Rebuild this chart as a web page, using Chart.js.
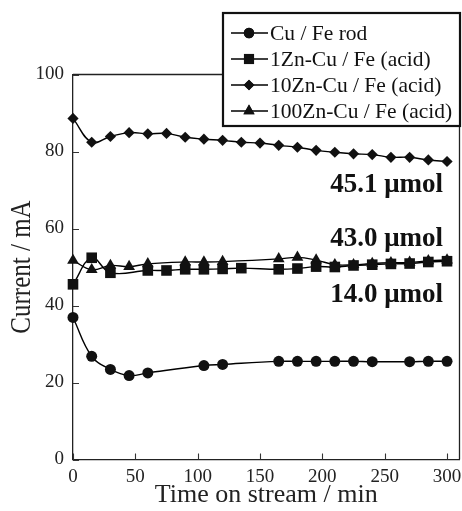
<!DOCTYPE html>
<html>
<head>
<meta charset="utf-8">
<script src="https://cdn.jsdelivr.net/npm/chart.js@4.4.0/dist/chart.umd.min.js"></script>
<style>
html,body{margin:0;padding:0;background:#fff;}
canvas{display:block;}
</style>
</head>
<body>
<canvas id="c" width="462" height="511"></canvas>
<script>
// ---- data ----
const seriesLabels = ["Cu / Fe rod", "1Zn-Cu / Fe (acid)", "10Zn-Cu / Fe (acid)", "100Zn-Cu / Fe (acid)"];

const cuTime = [0,15,30,45,60,105,120,165,180,195,210,225,240,270,285,300];
const cuCurrent = [36.9,26.8,23.4,21.8,22.5,24.4,24.7,25.5,25.5,25.5,25.5,25.5,25.4,25.4,25.5,25.5];

const zn1Time = [0,15,30,60,75,90,105,120,135,165,180,195,210,225,240,255,270,285,300];
const zn1Current = [45.5,52.4,48.5,49.1,49.1,49.4,49.4,49.5,49.7,49.4,49.6,50.1,50.0,50.4,50.6,50.8,50.9,51.3,51.5];

const zn10Time = [0,15,30,45,60,75,90,105,120,135,150,165,180,195,210,225,240,255,270,285,300];
const zn10Current = [88.6,82.4,83.9,84.9,84.6,84.7,83.7,83.2,82.9,82.4,82.2,81.6,81.1,80.3,79.8,79.4,79.2,78.5,78.5,77.8,77.4];

const zn100Time = [0,15,30,45,60,90,105,120,165,180,195,210,225,240,255,270,285,300];
const zn100Current = [51.7,49.3,50.4,50.1,50.8,51.3,51.3,51.4,52.1,52.5,51.8,50.6,50.6,50.9,51.1,51.2,51.6,51.8];

const xTickValues = [0,50,100,150,200,250,300];
const yTickValues = [0,20,40,60,80,100];

const amountLabels = ["45.1 \u03bcmol", "43.0 \u03bcmol", "14.0 \u03bcmol"];
const amountAnchorY = [71.3, 57.3, 42.7];

// ---- chart ----
const SERIF = "'Liberation Serif', 'Times New Roman', serif";
function pts(xs, ys){ return xs.map((x,i)=>({x:x, y:ys[i]})); }

const styles = [
  {pointStyle:'circle', pointRadius:5.5},
  {pointStyle:'rect', pointRadius:7.5},
  {pointStyle:'rectRot', pointRadius:5.6},
  {pointStyle:'triangle', pointRadius:6.8}
];
const allData = [pts(cuTime,cuCurrent), pts(zn1Time,zn1Current), pts(zn10Time,zn10Current), pts(zn100Time,zn100Current)];

const datasets = allData.map((d,i)=>({
  label: seriesLabels[i],
  data: d,
  borderColor:'#000',
  backgroundColor:'#000',
  pointBackgroundColor:'#111',
  pointBorderColor:'#111',
  pointBorderWidth:0,
  borderWidth:1.4,
  tension:0.4,
  fill:false,
  clip:false,
  pointStyle: styles[i].pointStyle,
  pointRadius: styles[i].pointRadius
}));

const extras = {
  id:'extras',
  afterDraw(chart){
    const ctx = chart.ctx;
    const a = chart.chartArea;
    const xs = chart.scales.x, ys = chart.scales.y;
    ctx.save();
    // frame top/right
    ctx.strokeStyle = '#222';
    ctx.lineWidth = 1.3;
    ctx.beginPath();
    ctx.moveTo(a.left, a.top); ctx.lineTo(a.right, a.top); ctx.lineTo(a.right, a.bottom);
    ctx.stroke();
    // inward ticks
    ctx.strokeStyle = '#333';
    ctx.lineWidth = 1.1;
    ctx.beginPath();
    xTickValues.forEach(v=>{ const px = Math.round(xs.getPixelForValue(v))+0.5; ctx.moveTo(px,a.bottom); ctx.lineTo(px,a.bottom-6); });
    yTickValues.forEach(v=>{ const py = Math.round(ys.getPixelForValue(v))+0.5; ctx.moveTo(a.left,py); ctx.lineTo(a.left+6,py); });
    ctx.stroke();
    // y axis title (slightly tall glyphs as in the reference)
    ctx.fillStyle = '#222';
    ctx.font = "25px " + SERIF;
    ctx.textAlign = 'center';
    ctx.textBaseline = 'middle';
    ctx.save();
    ctx.translate(22, (a.top + a.bottom)/2);
    ctx.rotate(-Math.PI/2);
    ctx.scale(1, 1.22);
    ctx.fillText(ys.options.title.text, 0, 0);
    ctx.restore();
    // amount labels
    ctx.fillStyle = '#111';
    ctx.font = "bold 27px " + SERIF;
    ctx.textAlign = 'right';
    ctx.textBaseline = 'middle';
    amountLabels.forEach((t,i)=>{
      ctx.fillText(t, xs.getPixelForValue(296.8), ys.getPixelForValue(amountAnchorY[i]));
    });
    // legend box
    const bx=223, by=13, bw=237, bh=113;
    ctx.fillStyle='#fff';
    ctx.fillRect(bx,by,bw,bh);
    ctx.strokeStyle='#111';
    ctx.lineWidth=2.2;
    ctx.strokeRect(bx,by,bw,bh);
    ctx.font = "21.5px " + SERIF;
    ctx.textAlign='left';
    ctx.textBaseline='middle';
    chart.data.datasets.forEach((ds,i)=>{
      const y = 33 + i*26;
      ctx.strokeStyle='#000';
      ctx.lineWidth=1.6;
      ctx.beginPath(); ctx.moveTo(231,y); ctx.lineTo(268,y); ctx.stroke();
      ctx.fillStyle='#111';
      Chart.helpers.drawPoint(ctx, {pointStyle: ds.pointStyle, radius: ds.pointRadius*0.95, borderWidth:0}, 249, y);
      ctx.fill();
      ctx.fillStyle='#111';
      ctx.fillText(ds.label, 270, y+1);
    });
    ctx.restore();
  }
};

new Chart(document.getElementById('c'), {
  type:'line',
  data:{datasets},
  options:{
    responsive:false,
    animation:false,
    layout:{autoPadding:false, padding:{left:0, right:2.5, top:74.5, bottom:0}},
    plugins:{legend:{display:false}, tooltip:{enabled:false}},
    scales:{
      x:{
        type:'linear', min:0, max:310,
        afterFit(s){ s.height = 51.5; s.paddingLeft = 0; s.paddingRight = 0; },
        afterBuildTicks(s){ s.ticks = xTickValues.map(v=>({value:v})); },
        grid:{display:true, drawOnChartArea:false, drawTicks:false},
        border:{display:true, color:'#222', width:1.3},
        ticks:{padding:6, color:'#222', font:{family:SERIF, size:19}, maxRotation:0, autoSkip:false},
        title:{display:true, text:'Time on stream / min', color:'#222', font:{family:SERIF, size:26}, padding:{top:2,bottom:0}}
      },
      y:{
        type:'linear', min:0, max:100,
        afterFit(s){ s.width = 73; s.paddingTop = 0; s.paddingBottom = 0; },
        afterBuildTicks(s){ s.ticks = yTickValues.map(v=>({value:v})); },
        grid:{display:true, drawOnChartArea:false, drawTicks:false},
        border:{display:true, color:'#222', width:1.3},
        ticks:{padding:9, color:'#222', font:{family:SERIF, size:19}},
        title:{display:false, text:'Current / mA'}
      }
    }
  },
  plugins:[extras]
});
</script>
</body>
</html>
